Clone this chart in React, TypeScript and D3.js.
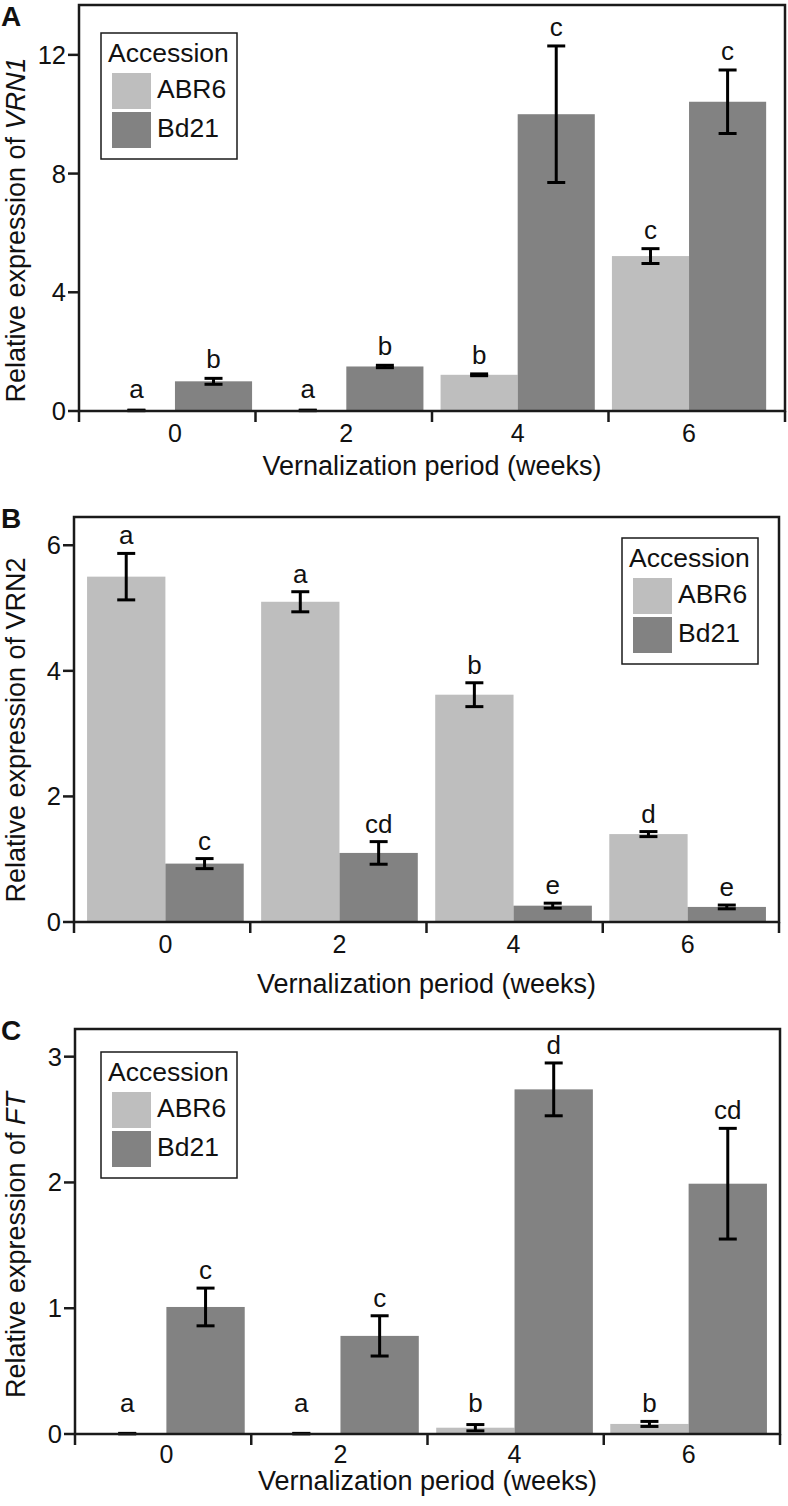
import React from "react";
import * as d3 from "d3";

// ---------------- data ----------------
const weeks = ["0", "2", "4", "6"];
const accessions = ["ABR6", "Bd21"];

// Panel A: VRN1
const vrn1ABR6 = [0.02, 0.02, 1.22, 5.22];
const vrn1ABR6Se = [0.01, 0.01, 0.03, 0.25];
const vrn1Bd21 = [1.0, 1.5, 10.0, 10.42];
const vrn1Bd21Se = [0.1, 0.04, 2.3, 1.07];
const vrn1ABR6Letters = ["a", "a", "b", "c"];
const vrn1Bd21Letters = ["b", "b", "c", "c"];
const vrn1Ticks = [0, 4, 8, 12];

// Panel B: VRN2
const vrn2ABR6 = [5.5, 5.1, 3.62, 1.4];
const vrn2ABR6Se = [0.37, 0.16, 0.19, 0.04];
const vrn2Bd21 = [0.93, 1.1, 0.26, 0.24];
const vrn2Bd21Se = [0.08, 0.18, 0.04, 0.03];
const vrn2ABR6Letters = ["a", "a", "b", "d"];
const vrn2Bd21Letters = ["c", "cd", "e", "e"];
const vrn2Ticks = [0, 2, 4, 6];

// Panel C: FT
const ftABR6 = [0.003, 0.003, 0.05, 0.08];
const ftABR6Se = [0.002, 0.002, 0.025, 0.02];
const ftBd21 = [1.01, 0.78, 2.74, 1.99];
const ftBd21Se = [0.15, 0.16, 0.21, 0.44];
const ftABR6Letters = ["a", "a", "b", "b"];
const ftBd21Letters = ["c", "c", "d", "cd"];
const ftTicks = [0, 1, 2, 3];

const xTitle = "Vernalization period (weeks)";
const legendTitle = "Accession";

// ---------------- styles ----------------
const FONT = "'Liberation Sans', Arial, Helvetica, sans-serif";
const colors: Record<string, string> = { ABR6: "#bebebe", Bd21: "#828282" };
const INK = "#1a1a1a";

type PanelCfg = {
  letter: string;
  gene: string;
  geneItalic: boolean;
  series: { values: number[]; se: number[]; letters: string[] }[];
  ticks: number[];
  yMax: number;
  left: number;
  right: number;
  top: number;
  bottom: number;
  padOuter: number;
  letterBase: number;
  yLabelCenter: number;
  tickBase: number;
  titleBase: number;
  legendX: number;
  legendY: number;
  labelGap: number;
  labelFloor: number;
};

const panels: PanelCfg[] = [
  {
    letter: "A",
    gene: "VRN1",
    geneItalic: true,
    series: [
      { values: vrn1ABR6, se: vrn1ABR6Se, letters: vrn1ABR6Letters },
      { values: vrn1Bd21, se: vrn1Bd21Se, letters: vrn1Bd21Letters },
    ],
    ticks: vrn1Ticks,
    yMax: 13.68,
    left: 79,
    right: 785,
    top: 5,
    bottom: 411,
    padOuter: 0.11,
    letterBase: 26,
    yLabelCenter: 230,
    tickBase: 442,
    titleBase: 475,
    legendX: 101,
    legendY: 33,
    labelGap: 10,
    labelFloor: 0.1,
  },
  {
    letter: "B",
    gene: "VRN2",
    geneItalic: false,
    series: [
      { values: vrn2ABR6, se: vrn2ABR6Se, letters: vrn2ABR6Letters },
      { values: vrn2Bd21, se: vrn2Bd21Se, letters: vrn2Bd21Letters },
    ],
    ticks: vrn2Ticks,
    yMax: 6.45,
    left: 74,
    right: 779,
    top: 517,
    bottom: 922,
    padOuter: 0.075,
    letterBase: 528,
    yLabelCenter: 730,
    tickBase: 953,
    titleBase: 993,
    legendX: 622,
    legendY: 538,
    labelGap: 9,
    labelFloor: 0.05,
  },
  {
    letter: "C",
    gene: "FT",
    geneItalic: true,
    series: [
      { values: ftABR6, se: ftABR6Se, letters: ftABR6Letters },
      { values: ftBd21, se: ftBd21Se, letters: ftBd21Letters },
    ],
    ticks: ftTicks,
    yMax: 3.22,
    left: 75,
    right: 780,
    top: 1029,
    bottom: 1434,
    padOuter: 0.075,
    letterBase: 1040,
    yLabelCenter: 1245,
    tickBase: 1463,
    titleBase: 1490,
    legendX: 101,
    legendY: 1052,
    labelGap: 9,
    labelFloor: 0.1,
  },
];

function Legend({ x, y }: { x: number; y: number }) {
  return (
    <g transform={`translate(${x},${y})`}>
      <rect x={0} y={0} width={136} height={126} fill="#fff" stroke={INK} strokeWidth={1.5} />
      <text x={7} y={29} fontSize={26.5} fill="#111">
        {legendTitle}
      </text>
      {accessions.map((a, i) => (
        <g key={a}>
          <rect x={11} y={40 + i * 39} width={39} height={36} fill={colors[a]} />
          <text x={56} y={65 + i * 39} fontSize={26.5} fill="#111">
            {a}
          </text>
        </g>
      ))}
    </g>
  );
}

function Panel({ cfg }: { cfg: PanelCfg }) {
  const y = d3.scaleLinear().domain([0, cfg.yMax]).range([cfg.bottom, cfg.top]);
  const xBounds = d3.scaleBand<string>().domain(weeks).range([cfg.left, cfg.right]).padding(0);
  const x = d3
    .scaleBand<string>()
    .domain(weeks)
    .range([cfg.left, cfg.right])
    .paddingInner(0.1)
    .paddingOuter(cfg.padOuter);
  const xs = d3.scaleBand<string>().domain(accessions).range([0, x.bandwidth()]).padding(0);
  const boundaries = [...weeks.map((w) => xBounds(w) as number), cfg.right];
  const tickLen = 11;
  const capW = 18;

  return (
    <g>
      <text x={1} y={cfg.letterBase} fontSize={28} fontWeight="bold" fill="#111">
        {cfg.letter}
      </text>
      {/* bars */}
      {accessions.map((a, si) =>
        weeks.map((w, i) => {
          const v = cfg.series[si].values[i];
          const bx = (x(w) as number) + (xs(a) as number);
          return (
            <rect
              key={`${a}-${w}`}
              x={bx}
              y={y(v)}
              width={xs.bandwidth()}
              height={cfg.bottom - y(v)}
              fill={colors[a]}
            />
          );
        })
      )}
      {/* error bars and letters */}
      {accessions.map((a, si) =>
        weeks.map((w, i) => {
          const s = cfg.series[si];
          const v = s.values[i];
          const e = s.se[i];
          const cx = (x(w) as number) + (xs(a) as number) + xs.bandwidth() / 2;
          const yt = y(v + e);
          const yb = y(Math.max(0, v - e));
          const ly = Math.min(yt, y(cfg.labelFloor)) - cfg.labelGap;
          return (
            <g key={`e-${a}-${w}`}>
              <line x1={cx} x2={cx} y1={yt} y2={yb} stroke="#000" strokeWidth={3} />
              <line x1={cx - capW / 2} x2={cx + capW / 2} y1={yt} y2={yt} stroke="#000" strokeWidth={3} />
              <line x1={cx - capW / 2} x2={cx + capW / 2} y1={yb} y2={yb} stroke="#000" strokeWidth={3} />
              <text x={cx} y={ly} fontSize={26} textAnchor="middle" fill="#111">
                {s.letters[i]}
              </text>
            </g>
          );
        })
      )}
      {/* frame */}
      <rect
        x={cfg.left}
        y={cfg.top}
        width={cfg.right - cfg.left}
        height={cfg.bottom - cfg.top}
        fill="none"
        stroke={INK}
        strokeWidth={2.5}
      />
      {/* x ticks */}
      {boundaries.map((bx, i) => (
        <line key={`xt${i}`} x1={bx} x2={bx} y1={cfg.bottom} y2={cfg.bottom + tickLen} stroke={INK} strokeWidth={2.5} />
      ))}
      {weeks.map((w) => (
        <text
          key={`xl${w}`}
          x={(x(w) as number) + x.bandwidth() / 2}
          y={cfg.tickBase}
          fontSize={25}
          textAnchor="middle"
          fill="#111"
        >
          {w}
        </text>
      ))}
      {/* y ticks */}
      {cfg.ticks.map((t) => (
        <g key={`yt${t}`}>
          <line x1={cfg.left - tickLen} x2={cfg.left} y1={y(t)} y2={y(t)} stroke={INK} strokeWidth={2.5} />
          <text x={cfg.left - tickLen - 2} y={y(t) + 9} fontSize={25.5} textAnchor="end" fill="#111">
            {t}
          </text>
        </g>
      ))}
      {/* axis titles */}
      <text
        x={(cfg.left + cfg.right) / 2}
        y={cfg.titleBase}
        fontSize={27}
        textAnchor="middle"
        fill="#111"
      >
        {xTitle}
      </text>
      <text transform={`translate(25,${cfg.yLabelCenter}) rotate(-90)`} fontSize={27} textAnchor="middle" fill="#111">
        <tspan>{"Relative expression of "}</tspan>
        <tspan fontStyle={cfg.geneItalic ? "italic" : "normal"}>{cfg.gene}</tspan>
      </text>
      <Legend x={cfg.legendX} y={cfg.legendY} />
    </g>
  );
}

export default function App() {
  return (
    <svg
      width={788}
      height={1506}
      viewBox="0 0 788 1506"
      style={{ position: "absolute", left: 0, top: 0, background: "#fff" }}
      fontFamily={FONT}
    >
      <rect x={0} y={0} width={788} height={1506} fill="#fff" />
      {panels.map((p) => (
        <Panel key={p.letter} cfg={p} />
      ))}
    </svg>
  );
}
